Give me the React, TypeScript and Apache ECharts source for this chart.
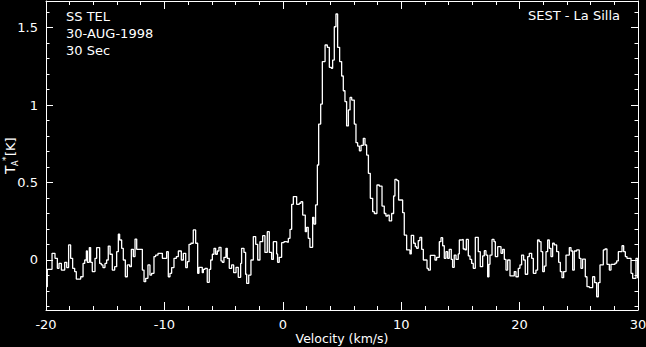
import React, { useEffect, useRef } from "react";
import * as echarts from "echarts";

// Left edge velocity (km/s) of each step of the spectrum
const velocity = [
  -20.0, -19.89, -19.49, -19.24, -19.04, -18.9, -18.7, -18.42, -18.25, -18.09,
  -17.92, -17.75, -17.58, -17.44, -17.07, -16.87, -16.73, -16.59, -16.51, -16.34,
  -16.23, -16.09, -15.86, -15.72, -15.47, -15.33, -15.19, -15.02, -14.88, -14.74,
  -14.59, -14.4, -14.2, -14.03, -13.89, -13.78, -13.61, -13.47, -13.3, -13.13,
  -12.93, -12.79, -12.62, -12.48, -12.34, -11.86, -11.72, -11.58, -11.39, -11.22,
  -11.08, -10.88, -10.74, -10.54, -10.17, -9.81, -9.67, -9.53, -9.39, -9.19,
  -8.99, -8.82, -8.57, -8.4, -8.2, -8.06, -7.92, -7.76, -7.56, -7.36,
  -7.19, -7.08, -6.8, -6.71, -6.57, -6.38, -6.21, -6.09, -5.95, -5.81,
  -5.67, -5.53, -5.39, -5.22, -5.11, -4.97, -4.8, -4.69, -4.52, -4.32,
  -4.15, -3.95, -3.76, -3.56, -3.48, -3.28, -3.14, -3.05, -2.88, -2.69,
  -2.49, -2.29, -2.12, -1.93, -1.7, -1.51, -1.31, -1.14, -0.94, -0.8,
  -0.52, -0.44, -0.3, -0.1, 0.1, 0.3, 0.47, 0.61, 0.75, 0.89,
  1.17, 1.39, 1.53, 1.68, 1.9, 2.01, 2.15, 2.29, 2.52, 2.63,
  2.77, 2.92, 3.03, 3.2, 3.34, 3.57, 3.76, 3.93, 4.1, 4.21,
  4.35, 4.49, 4.63, 4.8, 4.97, 5.11, 5.25, 5.39, 5.54, 5.68,
  5.82, 6.04, 6.18, 6.32, 6.47, 6.61, 6.8, 6.94, 7.08, 7.23,
  7.39, 7.59, 7.73, 7.95, 8.15, 8.38, 8.57, 8.71, 8.85, 8.99,
  9.19, 9.36, 9.47, 9.64, 9.78, 10.12, 10.26, 10.46, 10.74, 10.85,
  11.05, 11.19, 11.3, 11.44, 11.58, 11.73, 11.87, 12.18, 12.29, 12.46,
  12.85, 12.99, 13.22, 13.36, 13.5, 13.64, 13.78, 13.92, 14.06, 14.23,
  14.34, 14.48, 14.63, 14.82, 14.91, 15.05, 15.24, 15.39, 15.5, 15.67,
  15.81, 15.95, 16.09, 16.26, 16.51, 16.68, 16.88, 17.02, 17.16, 17.3,
  17.41, 17.5, 17.67, 17.84, 17.95, 18.15, 18.43, 18.57, 18.71, 18.85,
  18.99, 19.19, 19.55, 19.69, 19.89, 20.03, 20.17, 20.34, 20.48, 20.68,
  20.82, 21.02, 21.16, 21.38, 21.52, 21.66, 21.81, 21.95, 22.09, 22.23,
  22.37, 22.51, 22.65, 22.79, 22.93, 23.13, 23.3, 23.44, 23.58, 23.72,
  23.92, 24.2, 24.34, 24.48, 24.62, 24.82, 25.04, 25.18, 25.32, 25.55,
  25.69, 25.89, 26.17, 26.34, 26.51, 26.65, 26.79, 27.07, 27.21, 27.38,
  27.58, 27.72, 28.06, 28.2, 28.34, 28.65, 28.79, 28.93, 29.07, 29.41,
  29.55, 29.83, 29.97, 30.0,
];

// Antenna temperature T_A* (K) for each step
const antennaTemp = [
  -0.172, -0.06, 0.043, 0.011, -0.054, -0.022, -0.065, -0.015, -0.049, 0.097,
  0.011, -0.054, -0.075, -0.123, -0.108, -0.022, 0.0, 0.058, -0.015, 0.08,
  -0.015, -0.075, 0.011, 0.08, -0.022, -0.032, -0.049, -0.022, 0.0, 0.09,
  0.037, -0.065, -0.043, 0.054, 0.166, 0.129, 0.075, 0.0, -0.108, -0.032,
  -0.043, 0.069, 0.022, 0.135, 0.069, -0.065, -0.14, -0.118, -0.032, -0.097,
  -0.086, 0.022, 0.032, 0.043, 0.011, 0.054, -0.108, -0.086, -0.049, 0.011,
  0.022, 0.058, 0.0, 0.043, -0.049, -0.011, 0.101, 0.108, 0.194, 0.108,
  -0.086, -0.047, -0.082, -0.06, -0.054, -0.144, -0.06, 0.0, 0.037, 0.075,
  0.037, 0.058, 0.082, -0.006, -0.015, 0.017, 0.075, 0.011, -0.054, -0.032,
  -0.082, -0.047, -0.112, -0.022, 0.075, 0.049, -0.092, -0.151, -0.097, 0.0,
  0.151, 0.101, 0.0, 0.118, 0.157, 0.049, 0.183, 0.049, 0.004, 0.118,
  0.039, -0.015, 0.017, 0.112, 0.118, 0.114, 0.14, 0.198, 0.359, 0.409,
  0.359, 0.366, 0.376, 0.29, 0.183, 0.211, 0.14, 0.082, 0.275, 0.232,
  0.355, 0.613, 0.877, 1.006, 1.28, 1.387, 1.372, 1.243, 1.237, 1.29,
  1.505, 1.587, 1.372, 1.28, 1.187, 1.092, 1.022, 0.865, 0.968, 1.049,
  1.032, 0.877, 0.757, 0.735, 0.705, 0.74, 0.785, 0.742, 0.677, 0.559,
  0.398, 0.312, 0.3, 0.484, 0.477, 0.348, 0.3, 0.284, 0.29, 0.252,
  0.3, 0.413, 0.52, 0.512, 0.387, 0.305, 0.161, 0.065, 0.039, 0.159,
  0.108, 0.086, 0.075, 0.125, 0.146, 0.069, 0.0, -0.054, -0.065, 0.03,
  0.0, 0.017, 0.118, 0.144, 0.092, 0.011, 0.054, 0.011, 0.069, 0.004,
  -0.047, 0.032, 0.004, 0.039, 0.129, 0.133, 0.071, 0.065, 0.133, 0.026,
  0.004, -0.022, -0.054, 0.146, 0.054, -0.043, 0.026, 0.06, 0.032, -0.108,
  -0.028, 0.032, 0.133, 0.118, 0.022, 0.086, 0.043, 0.069, 0.004, -0.065,
  0.0, -0.103, -0.075, -0.108, -0.054, -0.032, 0.032, 0.0, -0.092, 0.022,
  0.043, 0.011, -0.086, -0.065, 0.129, 0.118, 0.054, -0.075, -0.039, 0.054,
  0.129, 0.075, 0.022, 0.108, 0.097, 0.054, -0.015, -0.075, -0.114, -0.075,
  0.032, 0.08, 0.058, -0.065, 0.058, 0.065, 0.011, -0.054, 0.006, -0.108,
  -0.172, -0.178, -0.108, -0.146, -0.237, -0.146, -0.032, 0.065, 0.071, -0.028,
  -0.065, -0.028, -0.02, -0.006, 0.054, 0.092, 0.054, 0.022, 0.011, -0.086,
  -0.118, 0.011, -0.118, -0.118,
];

const xTickValues = [-20, -10, 0, 10, 20, 30];
const yTickValues = [0, 0.5, 1, 1.5];
const headerLines = ["SS TEL", "30-AUG-1998", "30 Sec"];
const siteLabel = "SEST - La Silla";
const xAxisTitle = "Velocity (km/s)";

const FONT = "DejaVu Sans";
const WHITE = "#ffffff";

export default function App() {
  const ref = useRef<HTMLDivElement>(null);

  useEffect(() => {
    if (!ref.current) return;
    const chart = echarts.init(ref.current, undefined, { renderer: "svg" });

    const seriesData = velocity.map((v, i) => [v, antennaTemp[i]]);

    const axisCommonX = {
      type: "value" as const,
      min: -20,
      max: 30,
      interval: 10,
      axisLine: { show: true, onZero: false, lineStyle: { color: WHITE, width: 1 } },
      axisTick: { show: true, inside: true, length: 8, lineStyle: { color: WHITE, width: 1 } },
      minorTick: { show: true, splitNumber: 5, length: 4, lineStyle: { color: WHITE, width: 1 } },
      splitLine: { show: false },
      minorSplitLine: { show: false },
    };

    const axisCommonY = {
      type: "value" as const,
      min: -0.3226,
      max: 1.671,
      splitNumber: 4,
      minInterval: 0.5,
      maxInterval: 0.5,
      axisLine: { show: true, onZero: false, lineStyle: { color: WHITE, width: 1 } },
      axisTick: { show: true, inside: true, length: 7, lineStyle: { color: WHITE, width: 1 } },
      minorTick: { show: true, splitNumber: 5, length: 3.5, lineStyle: { color: WHITE, width: 1 } },
      splitLine: { show: false },
      minorSplitLine: { show: false },
    };

    chart.setOption({
      animation: false,
      backgroundColor: "#000000",
      grid: {
        left: 46,
        right: 8,
        top: 1,
        bottom: 37,
        containLabel: false,
        outerBoundsMode: "none",
      },
      xAxis: [
        {
          ...axisCommonX,
          position: "bottom",
          name: xAxisTitle,
          nameLocation: "middle",
          nameGap: 22,
          nameMoveOverlap: false,
          nameTextStyle: {
            color: WHITE,
            fontSize: 12.5,
            fontFamily: FONT,
            lineHeight: 13,
            verticalAlign: "top",
          },
          axisLabel: {
            show: true,
            color: WHITE,
            fontSize: 13,
            fontFamily: FONT,
            margin: 8,
            formatter: (val: number) =>
              xTickValues.includes(Math.round(val)) ? String(Math.round(val)) : "",
          },
        },
        {
          ...axisCommonX,
          position: "top",
          axisLabel: { show: false },
        },
      ],
      yAxis: [
        {
          ...axisCommonY,
          position: "left",
          axisLabel: {
            show: true,
            color: WHITE,
            fontSize: 13,
            fontFamily: FONT,
            margin: 8,
            showMinLabel: false,
            showMaxLabel: false,
            formatter: (val: number) => {
              const hit = yTickValues.find((t) => Math.abs(t - val) < 1e-6);
              return hit === undefined ? "" : String(hit);
            },
          },
        },
        {
          ...axisCommonY,
          position: "right",
          axisLabel: { show: false },
        },
      ],
      series: [
        {
          type: "line",
          xAxisIndex: 0,
          yAxisIndex: 0,
          step: "end",
          data: seriesData,
          showSymbol: false,
          symbol: "none",
          clip: true,
          lineStyle: { color: WHITE, width: 1.3 },
        },
      ],
      graphic: [
        ...headerLines.map((line, i) => ({
          type: "text",
          left: 66,
          top: 10 + i * 17,
          style: { text: line, fill: WHITE, fontSize: 13, fontFamily: FONT },
        })),
        {
          type: "text",
          right: 26,
          top: 9,
          style: { text: siteLabel, fill: WHITE, fontSize: 13, fontFamily: FONT },
        },
        {
          type: "group",
          x: 17,
          y: 174,
          rotation: Math.PI / 2,
          children: [
            {
              type: "text",
              x: 0,
              y: 0,
              style: { text: "T", fill: WHITE, fontSize: 14, fontFamily: FONT, verticalAlign: "bottom" },
            },
            {
              type: "text",
              x: 8,
              y: 2,
              style: { text: "A", fill: WHITE, fontSize: 8, fontFamily: FONT, verticalAlign: "bottom" },
            },
            {
              type: "text",
              x: 13,
              y: -7,
              style: { text: "*", fill: WHITE, fontSize: 9, fontFamily: FONT, verticalAlign: "bottom" },
            },
            {
              type: "text",
              x: 18,
              y: 0,
              style: { text: "[K]", fill: WHITE, fontSize: 13, fontFamily: FONT, verticalAlign: "bottom" },
            },
          ],
        },
      ],
    });

    return () => {
      chart.dispose();
    };
  }, []);

  return (
    <div
      ref={ref}
      style={{
        position: "fixed",
        left: 0,
        top: 0,
        width: 646,
        height: 347,
        background: "#000000",
      }}
    />
  );
}
